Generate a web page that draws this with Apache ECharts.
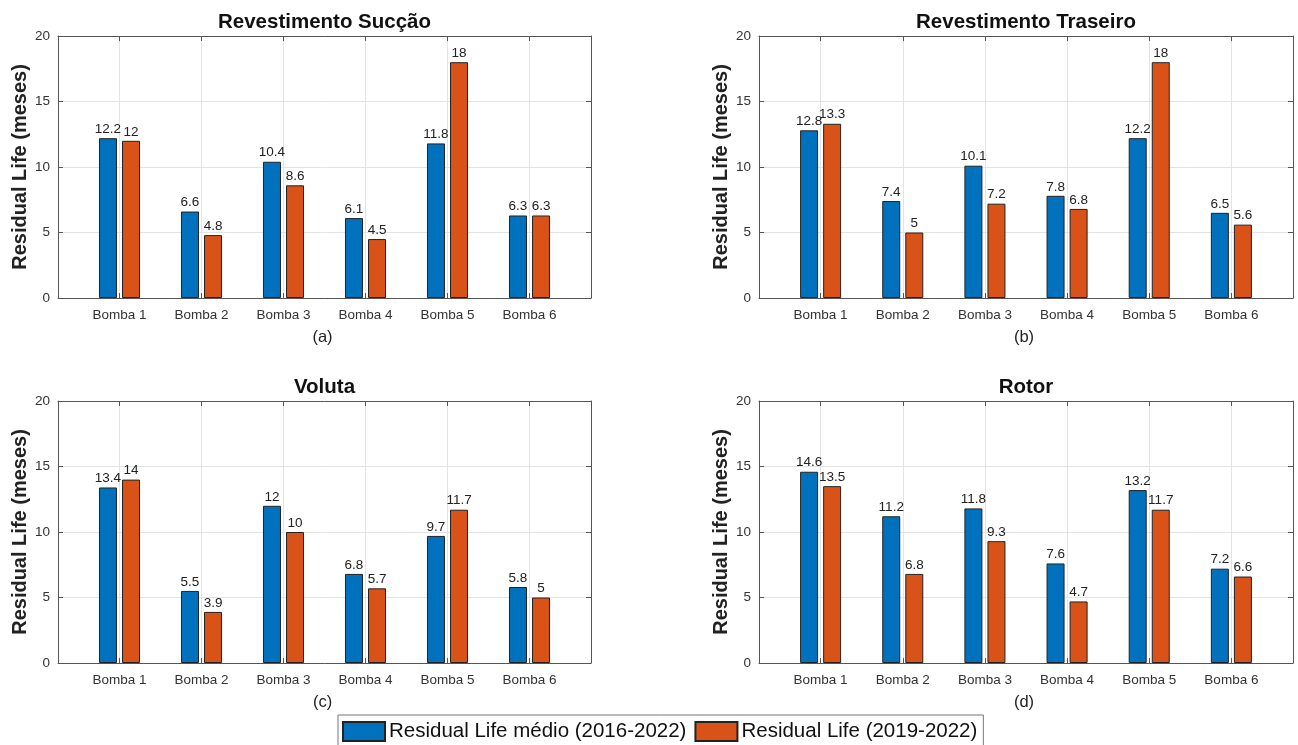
<!DOCTYPE html>
<html>
<head>
<meta charset="utf-8">
<script src="https://cdn.jsdelivr.net/npm/echarts@6/dist/echarts.min.js"></script>
<style>
html,body{margin:0;padding:0;background:#fff;}
#chart{width:1298px;height:745px;}
</style>
</head>
<body>
<div id="chart"></div>
<script>
// ---- data ----
const categories = ['Bomba 1', 'Bomba 2', 'Bomba 3', 'Bomba 4', 'Bomba 5', 'Bomba 6'];
const seriesNames = ['Residual Life médio (2016-2022)', 'Residual Life (2019-2022)'];
const panelTitles = ['Revestimento Sucção', 'Revestimento Traseiro', 'Voluta', 'Rotor'];
const panelLabels = ['(a)', '(b)', '(c)', '(d)'];
const yTicks = [0, 5, 10, 15, 20];

const sucMedio = [12.2, 6.6, 10.4, 6.1, 11.8, 6.3];
const suc1922 = [12, 4.8, 8.6, 4.5, 18, 6.3];
const trasMedio = [12.8, 7.4, 10.1, 7.8, 12.2, 6.5];
const tras1922 = [13.3, 5, 7.2, 6.8, 18, 5.6];
const volMedio = [13.4, 5.5, 12, 6.8, 9.7, 5.8];
const vol1922 = [14, 3.9, 10, 5.7, 11.7, 5];
const rotMedio = [14.6, 11.2, 11.8, 7.6, 13.2, 7.2];
const rot1922 = [13.5, 6.8, 9.3, 4.7, 11.7, 6.6];

const panelData = [[sucMedio, suc1922], [trasMedio, tras1922], [volMedio, vol1922], [rotMedio, rot1922]];

// ---- layout ----
const grids = [
  {left: 58, top: 36, width: 533, height: 262},
  {left: 759, top: 36, width: 534, height: 262},
  {left: 58, top: 401, width: 533, height: 262},
  {left: 759, top: 401, width: 534, height: 262}
];
const colors = ['#0072BD', '#D95319'];
const axisColor = '#555';
const gridColor = '#e3e3e3';
const FONT = 'Liberation Sans, Arial';
const catPos = categories.map((c, i) => i + 1);

const option = {
  backgroundColor: '#fff',
  animation: false,
  grid: grids.map(g => Object.assign({containLabel: false, show: false}, g)),
  xAxis: [],
  yAxis: [],
  series: [],
  graphic: [],
  legend: {
    data: seriesNames,
    left: 338,
    top: 715,
    orient: 'horizontal',
    itemWidth: 42,
    itemHeight: 19,
    itemGap: 8,
    padding: [6, 6, 6, 4],
    borderColor: '#777',
    borderWidth: 1,
    icon: 'rect',
    textStyle: {fontFamily: FONT, fontSize: 20.5, color: '#111', padding: [0, 0, 0, -1]}
  }
};

grids.forEach((g, p) => {
  option.xAxis.push({
    type: 'value', gridIndex: p, position: 'bottom', min: 0.25, max: 6.75,
    axisLine: {show: true, onZero: false, lineStyle: {color: axisColor, width: 1}},
    axisTick: {show: true, inside: true, length: 5, customValues: catPos, lineStyle: {color: axisColor}},
    axisLabel: {show: true, customValues: catPos, margin: 10, color: '#333',
      fontFamily: FONT, fontSize: 13.5,
      formatter: v => categories[Math.round(v) - 1] || ''},
    splitLine: {show: true, lineStyle: {color: gridColor, width: 1}}
  });
  option.xAxis.push({
    type: 'value', gridIndex: p, position: 'top', min: 0.25, max: 6.75,
    axisLine: {show: true, onZero: false, lineStyle: {color: axisColor, width: 1}},
    axisTick: {show: true, inside: true, length: 5, customValues: catPos, lineStyle: {color: axisColor}},
    axisLabel: {show: false},
    splitLine: {show: false}
  });
  option.yAxis.push({
    type: 'value', gridIndex: p, position: 'left', min: 0, max: 20, interval: 5,
    name: 'Residual Life (meses)', nameLocation: 'middle', nameGap: 28, nameRotate: 90,
    nameTextStyle: {fontFamily: FONT, fontSize: 20, fontWeight: 'bold', color: '#222'},
    axisLine: {show: true, onZero: false, lineStyle: {color: axisColor, width: 1}},
    axisTick: {show: true, inside: true, length: 5, lineStyle: {color: axisColor}},
    axisLabel: {show: true, margin: 8, color: '#333', fontFamily: FONT, fontSize: 13.5},
    splitLine: {show: true, lineStyle: {color: gridColor, width: 1}}
  });
  option.yAxis.push({
    type: 'value', gridIndex: p, position: 'right', min: 0, max: 20, interval: 5,
    axisLine: {show: true, onZero: false, lineStyle: {color: axisColor, width: 1}},
    axisTick: {show: true, inside: true, length: 5, lineStyle: {color: axisColor}},
    axisLabel: {show: false},
    splitLine: {show: false}
  });

  panelData[p].forEach((vals, s) => {
    option.series.push({
      type: 'bar',
      name: seriesNames[s],
      xAxisIndex: p * 2,
      yAxisIndex: p * 2,
      barWidth: 18,
      barGap: '28%',
      data: vals.map((v, i) => [catPos[i], v]),
      itemStyle: {color: colors[s], borderColor: '#222', borderWidth: 1},
      label: {show: true, position: 'top', distance: 2, color: '#222',
        fontFamily: FONT, fontSize: 13.5,
        formatter: prm => String(prm.value[1])}
    });
  });

  const cx = g.left + g.width / 2;
  option.graphic.push({
    type: 'text', x: cx, y: g.top - 14,
    style: {text: panelTitles[p], textAlign: 'center', textVerticalAlign: 'middle',
      font: 'bold 20.5px "Liberation Sans", Arial', fill: '#111'}
  });
  option.graphic.push({
    type: 'text', x: cx - 2, y: g.top + g.height + 39,
    style: {text: panelLabels[p], textAlign: 'center', textVerticalAlign: 'middle',
      font: '16.5px "Liberation Sans", Arial', fill: '#222'}
  });
});

const chart = echarts.init(document.getElementById('chart'), null, {renderer: 'canvas'});
chart.setOption(option);
</script>
</body>
</html>
